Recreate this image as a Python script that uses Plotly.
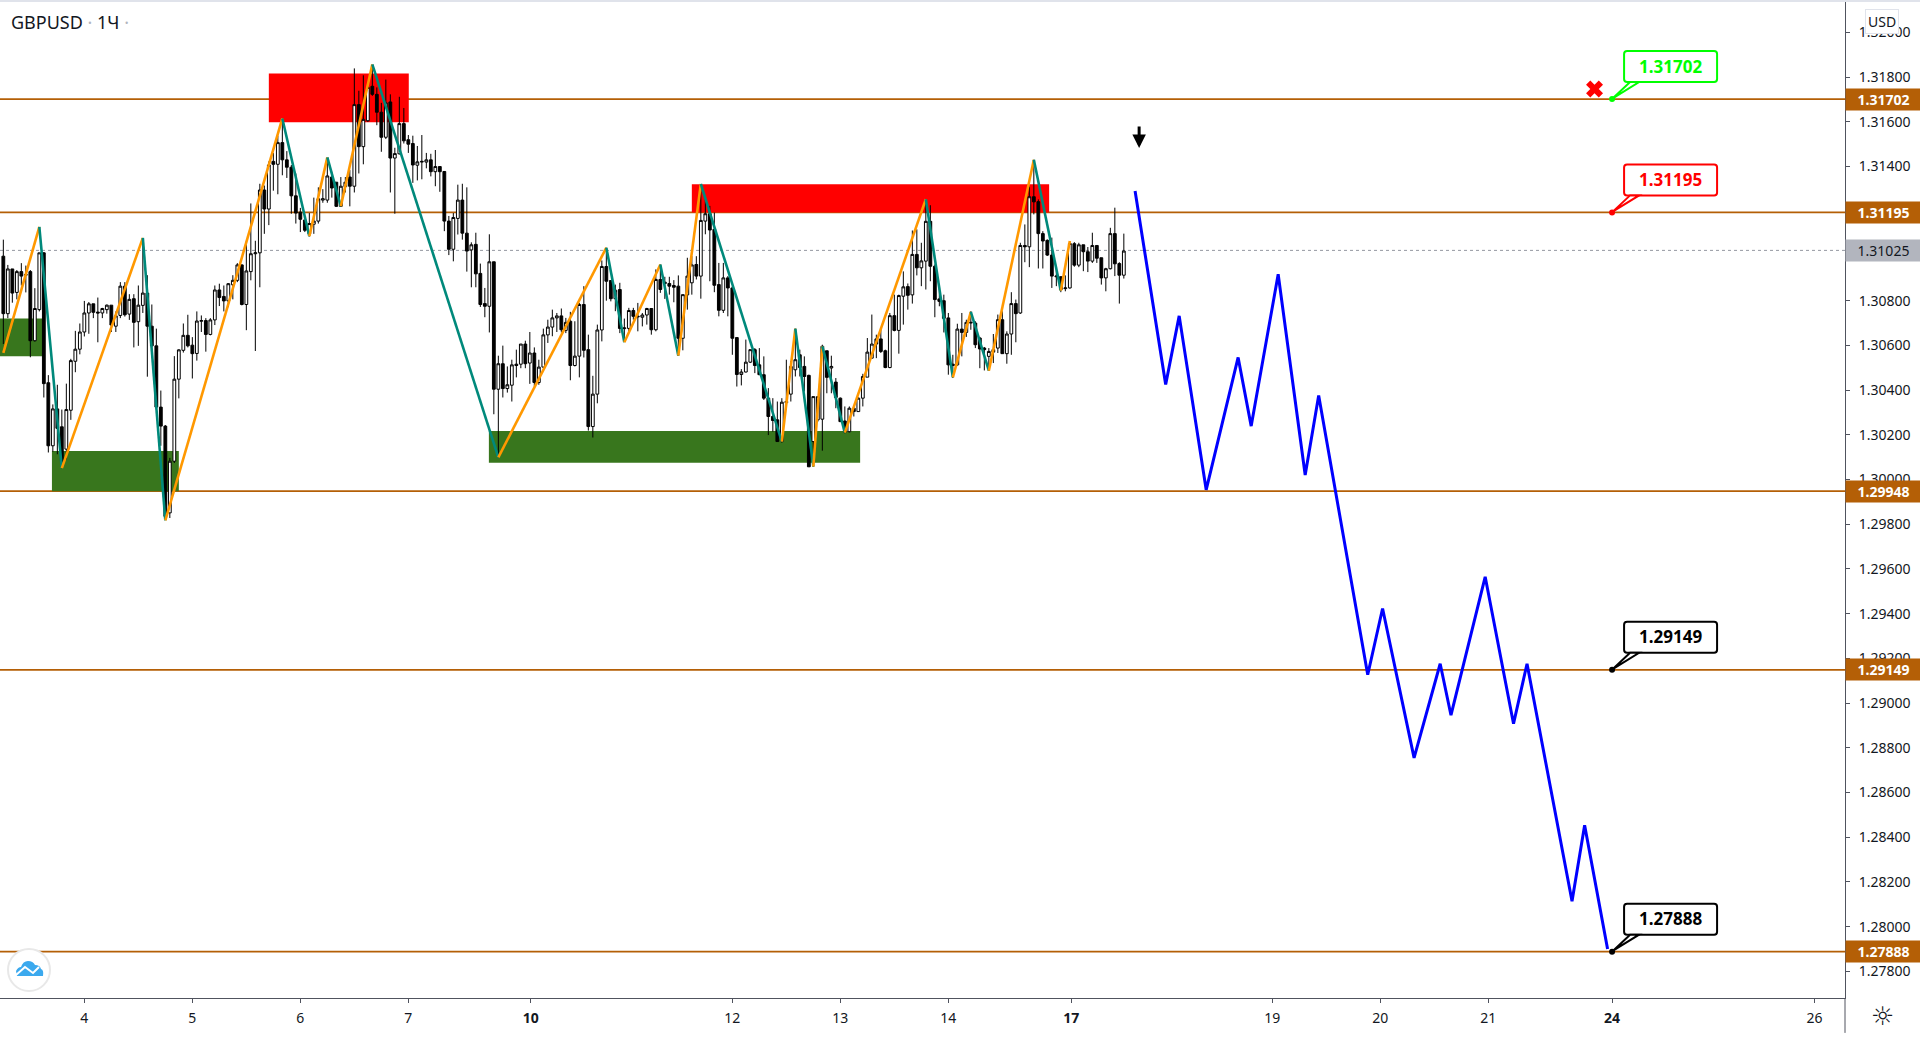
import plotly.graph_objects as go

# hourly candles
opens = [
    1.30999, 1.30742, 1.30942, 1.30837, 1.30930, 1.30914, 1.30930, 1.30621, 1.30760, 1.31014,
    1.30433, 1.30151, 1.30316, 1.30236, 1.30136, 1.30310, 1.30529, 1.30583, 1.30660, 1.30745,
    1.30786, 1.30749, 1.30745, 1.30760, 1.30780, 1.30686, 1.30734, 1.30865, 1.30740, 1.30809,
    1.30706, 1.30779, 1.30834, 1.30686, 1.30598, 1.30324, 1.30239, 1.29851, 1.30082, 1.30449,
    1.30578, 1.30645, 1.30601, 1.30564, 1.30708, 1.30711, 1.30649, 1.30714, 1.30848, 1.30819,
    1.30799, 1.30871, 1.30891, 1.30960, 1.30783, 1.30930, 1.31010, 1.31014, 1.31295, 1.31210,
    1.31423, 1.31410, 1.31507, 1.31430, 1.31397, 1.31269, 1.31196, 1.31161, 1.31099, 1.31142,
    1.31156, 1.31250, 1.31250, 1.31353, 1.31330, 1.31222, 1.31310, 1.31353, 1.31312, 1.31677,
    1.31489, 1.31605, 1.31759, 1.31723, 1.31643, 1.31531, 1.31689, 1.31438, 1.31457, 1.31592,
    1.31520, 1.31503, 1.31406, 1.31420, 1.31420, 1.31430, 1.31377, 1.31400, 1.31378, 1.31156,
    1.31030, 1.31168, 1.31250, 1.31102, 1.31027, 1.31052, 1.30922, 1.30787, 1.30775, 1.30974,
    1.30404, 1.30518, 1.30407, 1.30422, 1.30516, 1.30516, 1.30606, 1.30521, 1.30566, 1.30434,
    1.30503, 1.30647, 1.30682, 1.30723, 1.30732, 1.30667, 1.30708, 1.30510, 1.30552, 1.30783,
    1.30581, 1.30237, 1.30382, 1.30669, 1.30953, 1.30890, 1.30809, 1.30850, 1.30675, 1.30676,
    1.30756, 1.30727, 1.30726, 1.30736, 1.30765, 1.30670, 1.30895, 1.30883, 1.30877, 1.30868,
    1.30865, 1.30632, 1.30826, 1.30880, 1.30962, 1.30910, 1.31156, 1.31189, 1.31119, 1.30872,
    1.30757, 1.30902, 1.30857, 1.30635, 1.30470, 1.30481, 1.30525, 1.30581, 1.30513, 1.30469,
    1.30364, 1.30282, 1.30267, 1.30170, 1.30344, 1.30382, 1.30491, 1.30558, 1.30506, 1.30466,
    1.30170, 1.30267, 1.30270, 1.30576, 1.30499, 1.30436, 1.30364, 1.30262, 1.30214, 1.30319,
    1.30304, 1.30364, 1.30458, 1.30543, 1.30629, 1.30629, 1.30576, 1.30501, 1.30733, 1.30667,
    1.30820, 1.30863, 1.30826, 1.31007, 1.30947, 1.30977, 1.31155, 1.30954, 1.30808, 1.30800,
    1.30723, 1.30516, 1.30513, 1.30673, 1.30658, 1.30700, 1.30700, 1.30633, 1.30588, 1.30551,
    1.30581, 1.30588, 1.30715, 1.30563, 1.30651, 1.30787, 1.30745, 1.31047, 1.31041, 1.31265,
    1.31243, 1.31100, 1.31070, 1.31004, 1.30907, 1.30907, 1.30854, 1.30857, 1.31055, 1.30959,
    1.31050, 1.31019, 1.30977, 1.31047, 1.30992, 1.30902, 1.30943, 1.31100, 1.30966, 1.30914,
]
highs = [
    1.31073, 1.30960, 1.30942, 1.30937, 1.30968, 1.30957, 1.30937, 1.30856, 1.31014, 1.31017,
    1.30467, 1.30336, 1.30424, 1.30313, 1.30429, 1.30540, 1.30665, 1.30698, 1.30799, 1.30794,
    1.30786, 1.30814, 1.30768, 1.30783, 1.30780, 1.30752, 1.30883, 1.30883, 1.30829, 1.30829,
    1.30868, 1.31076, 1.30914, 1.30783, 1.30675, 1.30398, 1.30244, 1.30097, 1.30552, 1.30583,
    1.30698, 1.30737, 1.30637, 1.30752, 1.30734, 1.30722, 1.30722, 1.30868, 1.30876, 1.30868,
    1.30879, 1.30914, 1.30968, 1.30963, 1.31068, 1.31235, 1.31068, 1.31323, 1.31315, 1.31423,
    1.31461, 1.31538, 1.31608, 1.31469, 1.31407, 1.31369, 1.31215, 1.31161, 1.31192, 1.31261,
    1.31307, 1.31299, 1.31438, 1.31377, 1.31330, 1.31353, 1.31353, 1.31384, 1.31839, 1.31739,
    1.31808, 1.31754, 1.31854, 1.31754, 1.31685, 1.31789, 1.31723, 1.31484, 1.31712, 1.31662,
    1.31541, 1.31538, 1.31492, 1.31541, 1.31461, 1.31457, 1.31474, 1.31400, 1.31380, 1.31179,
    1.31192, 1.31319, 1.31323, 1.31307, 1.31061, 1.31104, 1.30966, 1.30857, 1.31097, 1.30974,
    1.30554, 1.30599, 1.30506, 1.30536, 1.30581, 1.30606, 1.30621, 1.30660, 1.30591, 1.30536,
    1.30675, 1.30715, 1.30760, 1.30745, 1.30765, 1.30723, 1.30750, 1.30708, 1.30790, 1.30865,
    1.30648, 1.30464, 1.30693, 1.30980, 1.31037, 1.30890, 1.30872, 1.30880, 1.30720, 1.30768,
    1.30768, 1.30790, 1.30745, 1.30768, 1.30765, 1.30940, 1.30962, 1.30907, 1.30907, 1.30892,
    1.30913, 1.30827, 1.30992, 1.30999, 1.30999, 1.31322, 1.31253, 1.31224, 1.31194, 1.30969,
    1.30969, 1.30910, 1.30865, 1.30635, 1.30494, 1.30626, 1.30581, 1.30588, 1.30588, 1.30551,
    1.30409, 1.30364, 1.30349, 1.30364, 1.30536, 1.30531, 1.30675, 1.30581, 1.30551, 1.30469,
    1.30371, 1.30371, 1.30603, 1.30576, 1.30554, 1.30454, 1.30367, 1.30327, 1.30327, 1.30327,
    1.30367, 1.30473, 1.30633, 1.30738, 1.30648, 1.30670, 1.30581, 1.30745, 1.30827, 1.30827,
    1.30931, 1.30877, 1.31114, 1.31119, 1.31059, 1.31253, 1.31227, 1.30962, 1.30865, 1.30827,
    1.30745, 1.30558, 1.30697, 1.30745, 1.30715, 1.30753, 1.30708, 1.30638, 1.30593, 1.30588,
    1.30651, 1.30738, 1.30753, 1.30663, 1.30838, 1.30805, 1.31059, 1.31141, 1.31310, 1.31430,
    1.31253, 1.31111, 1.31074, 1.31082, 1.30954, 1.30910, 1.30913, 1.31067, 1.31062, 1.31059,
    1.31050, 1.31040, 1.31104, 1.31047, 1.30992, 1.30947, 1.31126, 1.31216, 1.30972, 1.31100,
]
lows = [
    1.30606, 1.30722, 1.30791, 1.30806, 1.30868, 1.30837, 1.30547, 1.30617, 1.30752, 1.30367,
    1.30121, 1.30125, 1.30113, 1.30051, 1.30090, 1.30267, 1.30480, 1.30560, 1.30640, 1.30652,
    1.30722, 1.30614, 1.30722, 1.30742, 1.30660, 1.30660, 1.30722, 1.30729, 1.30714, 1.30591,
    1.30598, 1.30745, 1.30460, 1.30591, 1.30313, 1.30151, 1.29820, 1.29828, 1.30074, 1.30363,
    1.30568, 1.30591, 1.30452, 1.30532, 1.30660, 1.30572, 1.30645, 1.30691, 1.30776, 1.30752,
    1.30771, 1.30806, 1.30883, 1.30779, 1.30668, 1.30891, 1.30575, 1.30860, 1.31099, 1.31138,
    1.31292, 1.31276, 1.31361, 1.31349, 1.31189, 1.31145, 1.31107, 1.31107, 1.31087, 1.31099,
    1.31145, 1.31238, 1.31238, 1.31261, 1.31219, 1.31219, 1.31284, 1.31222, 1.31284, 1.31369,
    1.31410, 1.31600, 1.31716, 1.31585, 1.31466, 1.31523, 1.31284, 1.31189, 1.31454, 1.31503,
    1.31461, 1.31327, 1.31338, 1.31343, 1.31392, 1.31356, 1.31312, 1.31287, 1.31111, 1.31004,
    1.30976, 1.31096, 1.31073, 1.30930, 1.30860, 1.30860, 1.30772, 1.30726, 1.30658, 1.30292,
    1.30099, 1.30367, 1.30389, 1.30349, 1.30457, 1.30498, 1.30498, 1.30428, 1.30416, 1.30424,
    1.30498, 1.30611, 1.30641, 1.30660, 1.30658, 1.30655, 1.30444, 1.30506, 1.30457, 1.30546,
    1.30219, 1.30188, 1.30341, 1.30618, 1.30800, 1.30797, 1.30753, 1.30655, 1.30618, 1.30655,
    1.30715, 1.30663, 1.30685, 1.30693, 1.30648, 1.30663, 1.30835, 1.30808, 1.30827, 1.30793,
    1.30554, 1.30578, 1.30760, 1.30827, 1.30895, 1.30809, 1.31097, 1.30887, 1.30838, 1.30730,
    1.30745, 1.30730, 1.30558, 1.30416, 1.30421, 1.30479, 1.30521, 1.30476, 1.30469, 1.30356,
    1.30199, 1.30214, 1.30170, 1.30165, 1.30312, 1.30349, 1.30461, 1.30461, 1.30394, 1.30057,
    1.30057, 1.30259, 1.30129, 1.30386, 1.30386, 1.30319, 1.30259, 1.30207, 1.30211, 1.30282,
    1.30304, 1.30327, 1.30458, 1.30543, 1.30543, 1.30566, 1.30498, 1.30498, 1.30663, 1.30563,
    1.30693, 1.30760, 1.30787, 1.30913, 1.30865, 1.30850, 1.30887, 1.30726, 1.30775, 1.30658,
    1.30469, 1.30454, 1.30509, 1.30551, 1.30638, 1.30670, 1.30588, 1.30498, 1.30488, 1.30487,
    1.30521, 1.30566, 1.30563, 1.30518, 1.30558, 1.30614, 1.30741, 1.30972, 1.30950, 1.31186,
    1.30944, 1.30944, 1.31000, 1.30857, 1.30865, 1.30838, 1.30842, 1.30854, 1.30952, 1.30950,
    1.30932, 1.30928, 1.30969, 1.30969, 1.30872, 1.30842, 1.30940, 1.30910, 1.30787, 1.30899,
]
closes = [
    1.30742, 1.30942, 1.30834, 1.30930, 1.30910, 1.30917, 1.30621, 1.30765, 1.31014, 1.30429,
    1.30151, 1.30316, 1.30229, 1.30082, 1.30313, 1.30532, 1.30583, 1.30660, 1.30745, 1.30786,
    1.30748, 1.30745, 1.30765, 1.30780, 1.30691, 1.30732, 1.30865, 1.30737, 1.30806, 1.30703,
    1.30780, 1.30834, 1.30686, 1.30598, 1.30324, 1.30239, 1.29835, 1.30082, 1.30449, 1.30580,
    1.30645, 1.30598, 1.30563, 1.30709, 1.30711, 1.30649, 1.30714, 1.30848, 1.30814, 1.30799,
    1.30876, 1.30891, 1.30960, 1.30783, 1.30933, 1.31010, 1.31014, 1.31295, 1.31210, 1.31407,
    1.31410, 1.31507, 1.31430, 1.31397, 1.31269, 1.31192, 1.31164, 1.31115, 1.31145, 1.31156,
    1.31256, 1.31256, 1.31358, 1.31304, 1.31222, 1.31312, 1.31330, 1.31312, 1.31677, 1.31489,
    1.31611, 1.31754, 1.31723, 1.31643, 1.31531, 1.31685, 1.31438, 1.31458, 1.31592, 1.31515,
    1.31500, 1.31407, 1.31421, 1.31423, 1.31430, 1.31377, 1.31400, 1.31377, 1.31156, 1.31030,
    1.31172, 1.31250, 1.31102, 1.31022, 1.31050, 1.30920, 1.30783, 1.30775, 1.30974, 1.30404,
    1.30518, 1.30407, 1.30424, 1.30513, 1.30510, 1.30606, 1.30518, 1.30566, 1.30434, 1.30503,
    1.30647, 1.30682, 1.30723, 1.30732, 1.30670, 1.30703, 1.30510, 1.30552, 1.30783, 1.30578,
    1.30237, 1.30382, 1.30669, 1.30953, 1.30887, 1.30809, 1.30847, 1.30676, 1.30678, 1.30756,
    1.30730, 1.30730, 1.30736, 1.30765, 1.30670, 1.30895, 1.30850, 1.30877, 1.30865, 1.30860,
    1.30632, 1.30827, 1.30910, 1.30960, 1.30910, 1.31159, 1.31189, 1.31116, 1.30869, 1.30757,
    1.30902, 1.30857, 1.30632, 1.30470, 1.30481, 1.30525, 1.30581, 1.30510, 1.30469, 1.30364,
    1.30282, 1.30264, 1.30170, 1.30346, 1.30349, 1.30506, 1.30536, 1.30501, 1.30461, 1.30057,
    1.30371, 1.30371, 1.30596, 1.30457, 1.30506, 1.30367, 1.30259, 1.30211, 1.30319, 1.30304,
    1.30364, 1.30461, 1.30570, 1.30606, 1.30606, 1.30573, 1.30501, 1.30733, 1.30667, 1.30823,
    1.30862, 1.30824, 1.31007, 1.30947, 1.30978, 1.31155, 1.30954, 1.30805, 1.30797, 1.30721,
    1.30513, 1.30510, 1.30673, 1.30658, 1.30703, 1.30703, 1.30603, 1.30584, 1.30581, 1.30573,
    1.30570, 1.30715, 1.30563, 1.30651, 1.30787, 1.30742, 1.31047, 1.31041, 1.31265, 1.31242,
    1.31100, 1.31067, 1.31004, 1.30910, 1.30910, 1.30850, 1.30857, 1.31056, 1.30959, 1.31050,
    1.31019, 1.30977, 1.31047, 1.30990, 1.30902, 1.30943, 1.31100, 1.30965, 1.30914, 1.31022,
]
bars = list(range(len(opens)))

# zigzag pivots (bar, price); up legs orange, down legs teal
zigzag_bars = [0, 8, 13, 31, 36, 62, 68, 72, 75, 82, 110, 134, 138, 146, 150, 155, 173, 176,
               180, 182, 187, 205, 211, 215, 219, 229, 235, 237]
zigzag_prices = [1.30567, 1.31130, 1.30051, 1.31081, 1.29817, 1.31615, 1.31088, 1.31441, 1.31222,
                 1.31857, 1.30099, 1.31037, 1.30614, 1.30962, 1.30554, 1.31322, 1.30170, 1.30675,
                 1.30058, 1.30596, 1.30210, 1.31254, 1.30457, 1.30750, 1.30487, 1.31430, 1.30845,
                 1.31067]

# projected path
path_bars = [251.5, 258.3, 261.3, 267.3, 274.4, 277.3, 283.3, 289.3, 292.3, 303.2, 306.5, 313.5,
             319.3, 321.7, 329.3, 335.6, 338.6, 348.6, 351.4, 356.5]
path_prices = [1.31291, 1.30425, 1.30732, 1.29954, 1.30546, 1.30239, 1.30918, 1.30020, 1.30376,
               1.29127, 1.29423, 1.28755, 1.29176, 1.28946, 1.29565, 1.28908, 1.29176, 1.28114,
               1.28454, 1.27900]

levels = [1.31702, 1.31195, 1.29948, 1.29149, 1.27888]
last_price = 1.31025

# zones: bar from, bar to, price top, price bottom
red_zones = [(59.0, 90.1, 1.31816, 1.31598), (153.0, 232.4, 1.31321, 1.31195)]
green_zones = [(-1.0, 8.8, 1.30720, 1.30551), (10.8, 39.0, 1.30128, 1.29948),
               (107.9, 190.4, 1.30217, 1.30075)]

# callouts: price, colour
callouts = [(1.31702, "#00ff00"), (1.31195, "#ff0000"), (1.29149, "#000000"), (1.27888, "#000000")]
callout_bar = 357.5

day_ticks = [18, 42, 66, 90, 117.2, 162, 186, 210, 237.3, 282, 306, 330, 357.5, 402.5]
day_labels = ["4", "5", "6", "7", "<b>10</b>", "12", "13", "14", "<b>17</b>", "19", "20", "21",
              "<b>24</b>", "26"]
price_ticks = [1.278, 1.28, 1.282, 1.284, 1.286, 1.288, 1.29, 1.292, 1.294, 1.296, 1.298, 1.30,
               1.302, 1.304, 1.306, 1.308, 1.31, 1.312, 1.314, 1.316, 1.318, 1.32]

FONT = "Noto Sans"
BROWN = "#b45f06"
AXIS = "#50535e"

fig = go.Figure()

# zones and levels sit under the candles
for x0, x1, y0, y1 in red_zones:
    fig.add_shape(type="rect", x0=x0, x1=x1, y0=y0, y1=y1, fillcolor="#ff0000", line_width=0, layer="below")
for x0, x1, y0, y1 in green_zones:
    fig.add_shape(type="rect", x0=x0, x1=x1, y0=y0, y1=y1, fillcolor="#38761d", line_width=0, layer="below")
for level in levels:
    fig.add_shape(type="line", xref="paper", x0=0, x1=1, y0=level, y1=level,
                  line=dict(color=BROWN, width=1.8), layer="below")
fig.add_shape(type="line", xref="paper", x0=0, x1=1, y0=last_price, y1=last_price,
              line=dict(color="#9598a1", width=1, dash="dot"), layer="below")

fig.add_trace(go.Candlestick(
    x=bars, open=opens, high=highs, low=lows, close=closes,
    increasing=dict(line=dict(color="#000000", width=1), fillcolor="#ffffff"),
    decreasing=dict(line=dict(color="#000000", width=1), fillcolor="#000000"),
    whiskerwidth=0, showlegend=False,
))

# zigzag legs
for i in range(len(zigzag_bars) - 1):
    going_up = zigzag_prices[i + 1] > zigzag_prices[i]
    fig.add_trace(go.Scatter(
        x=zigzag_bars[i:i + 2], y=zigzag_prices[i:i + 2], mode="lines", showlegend=False,
        line=dict(color="#ff9800" if going_up else "#00897b", width=2.6),
    ))

fig.add_trace(go.Scatter(x=path_bars, y=path_prices, mode="lines", showlegend=False,
                         line=dict(color="#0000ff", width=3)))

# red cross above the top level
fig.add_trace(go.Scatter(x=[353.6], y=[1.31747], mode="markers", showlegend=False,
                         marker=dict(symbol="x", size=15, color="#ff0000", line_width=0)))

# callout boxes, sizes in pixels from the level point
box_path = "M 15 17 L 102 17 Q 105 17 105 20 L 105 45 Q 105 48 102 48 L 15 48 Q 12 48 12 45 L 12 20 Q 12 17 15 17 Z"
tail_path = "M 1 1 L 27 17 L 18 17 Z"
for price, color in callouts:
    for path, fill in [(box_path, "#ffffff"), (tail_path, "#ffffff")]:
        fig.add_shape(type="path", path=path, xsizemode="pixel", ysizemode="pixel",
                      xanchor=callout_bar, yanchor=price, fillcolor=fill,
                      line=dict(color=color, width=2), layer="above")
    fig.add_annotation(x=callout_bar, y=price, text=f"<b>{price:.5f}</b>", showarrow=False,
                       xshift=58, yshift=33, font=dict(family=FONT, size=17, color=color))
    fig.add_trace(go.Scatter(x=[callout_bar], y=[price], mode="markers", showlegend=False,
                             marker=dict(size=6, color=color), cliponaxis=False))

# price tags on the axis
for level in levels:
    fig.add_annotation(xref="paper", x=1, y=level, xanchor="left", text=f"<b>{level:.5f}</b>", showarrow=False,
                       width=75, height=21, bgcolor=BROWN, borderpad=0, align="center",
                       font=dict(family=FONT, size=14, color="#ffffff"))
fig.add_annotation(xref="paper", x=1, y=last_price, xanchor="left", text=f"{last_price:.5f}", showarrow=False,
                   width=75, height=21, bgcolor="#b2b5be", borderpad=0, align="center",
                   font=dict(family=FONT, size=14, color="#131722"))

# sell arrow
fig.add_annotation(x=252.4, y=1.31483, ax=0, ay=-23, text="", showarrow=True, arrowhead=2,
                   arrowsize=0.9, arrowwidth=3, arrowcolor="#000000")

# header and chrome
fig.add_annotation(xref="paper", yref="paper", x=0.005, y=1, yshift=-6, xanchor="left", yanchor="top",
                   text='GBPUSD <span style="color:#b2b5be">·</span> 1Ч <span style="color:#b2b5be">·</span>',
                   showarrow=False, font=dict(family=FONT, size=18, color="#131722"))
fig.add_annotation(xref="paper", yref="paper", x=1, xshift=37, y=1, yshift=-7, xanchor="center", yanchor="top",
                   text="USD", showarrow=False, bgcolor="#ffffff", bordercolor="#e0e3eb", borderwidth=1,
                   borderpad=2, font=dict(family=FONT, size=14, color="#131722"))
fig.add_annotation(xref="paper", yref="paper", x=1, xshift=37, y=0, yshift=-18, xanchor="center", yanchor="middle",
                   text="☼", showarrow=False, font=dict(family="DejaVu Sans", size=26, color="#131722"))

# top band and axis stub next to the gear
fig.add_shape(type="rect", xref="paper", yref="paper", x0=0, x1=1.05, y0=1, y1=1.003,
              fillcolor="#e0e3eb", line_width=0)
fig.add_shape(type="line", xref="paper", yref="paper", x0=1, x1=1, y0=0, y1=-0.035,
              line=dict(color=AXIS, width=1))

# logo badge, pixels from the lower left corner of the plot
logo = dict(xref="paper", yref="paper", xsizemode="pixel", ysizemode="pixel", xanchor=0, yanchor=0, layer="above")
fig.add_shape(type="circle", x0=8, x1=50, y0=7, y1=49, fillcolor="#ffffff",
              line=dict(color="#e8e8e8", width=2), **logo)
fig.add_shape(type="path", path="M 17 22 L 16 27 Q 18 31 21 31 Q 23 37 28 37 Q 33 37 35 33 Q 40 33 41 29 Q 44 28 43 22 Z",
              fillcolor="#3ba9ee", line_width=0, **logo)
fig.add_shape(type="path", path="M 16 23 L 25 31 L 33 25 L 39 31", line=dict(color="#ffffff", width=2), **logo)

fig.update_xaxes(
    domain=[0, 1], range=[-0.74, 409.26], tickmode="array", tickvals=day_ticks, ticktext=day_labels,
    showgrid=False, zeroline=False, showline=True, linecolor=AXIS, linewidth=1,
    ticks="outside", ticklen=4, tickcolor=AXIS, ticklabelstandoff=3,
    tickfont=dict(family=FONT, size=14, color="#131722"), rangeslider_visible=False,
)
fig.update_yaxes(
    side="right", range=[1.27681, 1.32136], tickmode="array", tickvals=price_ticks, tickformat=".5f",
    showgrid=False, zeroline=False, showline=True, linecolor=AXIS, linewidth=1,
    ticks="outside", ticklen=4, tickcolor=AXIS, ticklabelstandoff=6,
    tickfont=dict(family=FONT, size=14, color="#131722"),
)
fig.update_layout(
    width=1920, height=1040, margin=dict(l=0, r=75, t=2, b=42), boxgap=0.12,
    paper_bgcolor="#ffffff", plot_bgcolor="#ffffff", showlegend=False,
)

# the page's default body margin would push the chart off the window
fig.write_html("out.html", config={"displayModeBar": False},
               post_script="document.body.style.margin='0';")
